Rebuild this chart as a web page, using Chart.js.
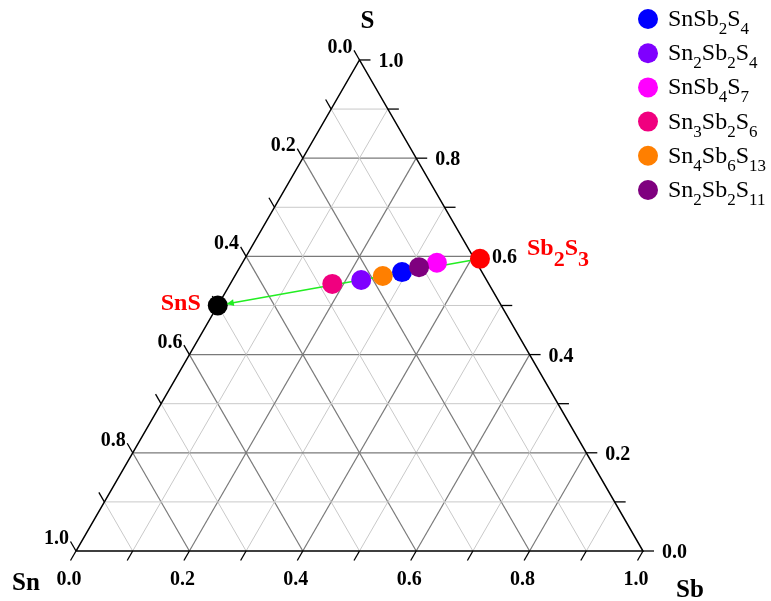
<!DOCTYPE html>
<html>
<head>
<meta charset="utf-8">
<title>Sn-Sb-S ternary diagram</title>
<script src="https://cdn.jsdelivr.net/npm/chart.js@4.4.1/dist/chart.umd.min.js"></script>
<style>
    html, body { margin: 0; padding: 0; background: #fff; }
    #wrap { width: 771px; height: 601px; position: relative; }
</style>
</head>
<body>
<div id="wrap"><canvas id="ternaryChart"></canvas></div>
<script>
// Data (fractions)
const compounds = ['SnSb2S4', 'Sn2Sb2S4', 'SnSb4S7', 'Sn3Sb2S6', 'Sn4Sb6S13', 'Sn2Sb2S11'];
const compoundColors = ['#0000ff', '#7f00ff', '#ff00ff', '#f0007f', '#ff7f00', '#7f007f'];
const snValues = [0.141, 0.221, 0.070, 0.276, 0.179, 0.106];
const sbValues = [0.291, 0.227, 0.343, 0.180, 0.261, 0.316];
const sValues  = [0.568, 0.552, 0.587, 0.544, 0.560, 0.578];

const endMembers = ['SnS', 'Sb2S3'];
const endColors = ['#000000', '#ff0000'];
const endSn = [0.500, 0.000];
const endSb = [0.000, 0.415];
const endS  = [0.500, 0.595];

const gridSteps = [0.1, 0.2, 0.3, 0.4, 0.5, 0.6, 0.7, 0.8, 0.9];
const tickValues = [0, 0.1, 0.2, 0.3, 0.4, 0.5, 0.6, 0.7, 0.8, 0.9, 1.0];
const tickLabels = ['0.0', '0.2', '0.4', '0.6', '0.8', '1.0'];
const axisTitles = ['Sn', 'Sb', 'S'];

// Layout
const UNIT = 567;               // pixels per unit side
const ORIGIN = { x: 76, y: 551 }; // Sn corner
const W = 771, H = 601;
const TICK = 11 / UNIT;
const SERIF = "'Liberation Serif', 'Times New Roman', serif";

// ternary -> cartesian (Sn corner at 0,0, Sb corner at 1,0)
function toXY(sb, s) {
    return { x: sb + s / 2, y: s * Math.sqrt(3) / 2 };
}

function segment(a, b, color, width) {
    return {
        type: 'line',
        data: [a, b],
        borderColor: color,
        borderWidth: width,
        pointRadius: 0,
        fill: false,
        order: 10
    };
}

function buildDatasets() {
    const sets = [];

    // compound points
    compounds.forEach((name, i) => {
        sets.push({
            type: 'scatter',
            label: name,
            data: [toXY(sbValues[i], sValues[i])],
            backgroundColor: compoundColors[i],
            borderWidth: 0,
            pointRadius: 10,
            order: 1 + (compounds.length - i) * 0.01
        });
    });

    // end members
    endMembers.forEach((name, i) => {
        sets.push({
            type: 'scatter',
            label: name,
            data: [toXY(endSb[i], endS[i])],
            backgroundColor: endColors[i],
            borderWidth: 0,
            pointRadius: 10,
            order: 1
        });
    });

    // tie line
    const tie = segment(toXY(endSb[0], endS[0]), toXY(endSb[1], endS[1]), '#22ee22', 1.5);
    tie.order = 2;
    sets.push(tie);

    // grid lines
    gridSteps.forEach((f, k) => {
        const major = (k % 2 === 1);
        const color = major ? '#7a7a7a' : '#c9c9c9';
        const w = major ? 1.2 : 1;
        sets.push(segment(toXY(0, f), toXY(1 - f, f), color, w));       // const S
        sets.push(segment(toXY(f, 0), toXY(f, 1 - f), color, w));       // const Sb
        sets.push(segment(toXY(1 - f, 0), toXY(0, 1 - f), color, w));   // const Sn
    });

    // ticks
    tickValues.forEach(f => {
        const b = toXY(f, 0);
        const bt = segment(b, { x: b.x - TICK * 0.5, y: b.y - TICK * 0.866 }, '#000', 1.3);
        const r = toXY(1 - f, f);
        const rt = segment(r, { x: r.x + TICK, y: r.y }, '#000', 1.3);
        const l = toXY(0, 1 - f);
        const lt = segment(l, { x: l.x - TICK * 0.5, y: l.y + TICK * 0.866 }, '#000', 1.3);
        [bt, rt, lt].forEach(t => { t.order = 5; sets.push(t); });
    });

    // triangle outline
    const frame = {
        type: 'line',
        data: [toXY(0, 0), toXY(1, 0), toXY(0, 1), toXY(0, 0)],
        borderColor: '#000',
        borderWidth: 1.5,
        pointRadius: 0,
        fill: false,
        order: 4
    };
    sets.push(frame);
    return sets;
}

// draw text where digits are subscripts
function drawFormula(ctx, text, x, y, mainFont, subFont, subDrop, align) {
    const parts = text.match(/\d+|\D+/g);
    let total = 0;
    parts.forEach(p => {
        ctx.font = /\d/.test(p) ? subFont : mainFont;
        total += ctx.measureText(p).width;
    });
    let cx = align === 'right' ? x - total : x;
    ctx.textAlign = 'left';
    ctx.textBaseline = 'alphabetic';
    parts.forEach(p => {
        const sub = /\d/.test(p);
        ctx.font = sub ? subFont : mainFont;
        ctx.fillText(p, cx, sub ? y + subDrop : y);
        cx += ctx.measureText(p).width;
    });
}

const labelPlugin = {
    id: 'ternaryLabels',
    afterDraw(chart) {
        const ctx = chart.ctx;
        const xs = chart.scales.x, ys = chart.scales.y;
        const px = p => ({ x: xs.getPixelForValue(p.x), y: ys.getPixelForValue(p.y) });
        ctx.save();
        ctx.fillStyle = '#000';

        // tick labels
        ctx.font = 'bold 20px ' + SERIF;
        tickLabels.forEach(t => {
            const f = parseFloat(t);
            const b = px(toXY(f, 0));
            ctx.textAlign = 'center';
            ctx.fillText(t, b.x - 7, b.y + 34);
            const r = px(toXY(1 - f, f));
            ctx.textAlign = 'left';
            ctx.fillText(t, r.x + 19, r.y + 7);
            const l = px(toXY(0, 1 - f));
            ctx.textAlign = 'right';
            ctx.fillText(t, l.x - 7, l.y - 7);
        });

        // axis titles
        ctx.font = 'bold 25px ' + SERIF;
        const snC = px(toXY(0, 0)), sbC = px(toXY(1, 0)), sC = px(toXY(0, 1));
        ctx.textAlign = 'left';
        ctx.fillText(axisTitles[0], snC.x - 64, snC.y + 39);
        ctx.textAlign = 'center';
        ctx.fillText(axisTitles[1], sbC.x + 47, sbC.y + 46);
        ctx.fillText(axisTitles[2], sC.x + 8, sC.y - 32);

        // arrow head on tie line near SnS
        const a = px(toXY(endSb[0], endS[0]));
        const b = px(toXY(endSb[1], endS[1]));
        const ang = Math.atan2(a.y - b.y, a.x - b.x);
        const tipX = a.x - Math.cos(ang) * 9, tipY = a.y - Math.sin(ang) * 9;
        ctx.fillStyle = '#22ee22';
        ctx.beginPath();
        ctx.moveTo(tipX, tipY);
        ctx.lineTo(tipX - Math.cos(ang - 0.45) * 8, tipY - Math.sin(ang - 0.45) * 8);
        ctx.lineTo(tipX - Math.cos(ang + 0.45) * 8, tipY - Math.sin(ang + 0.45) * 8);
        ctx.closePath();
        ctx.fill();

        // end member labels
        ctx.fillStyle = '#ff0000';
        drawFormula(ctx, endMembers[0], a.x - 17, a.y + 5,
            'bold 24px ' + SERIF, 'bold 22px ' + SERIF, 11, 'right');
        drawFormula(ctx, endMembers[1], b.x + 47, b.y - 4,
            'bold 24px ' + SERIF, 'bold 22px ' + SERIF, 11, 'left');

        // legend
        compounds.forEach((name, i) => {
            const cy = 19 + i * 34.2;
            ctx.fillStyle = compoundColors[i];
            ctx.beginPath();
            ctx.arc(648, cy, 10, 0, Math.PI * 2);
            ctx.fill();
            ctx.fillStyle = '#000';
            drawFormula(ctx, name, 668, cy + 7,
                '24px ' + SERIF, '17px ' + SERIF, 8, 'left');
        });
        ctx.restore();
    }
};

document.addEventListener('DOMContentLoaded', function() {
    const ctx = document.getElementById('ternaryChart').getContext('2d');
    new Chart(ctx, {
        type: 'scatter',
        data: { datasets: buildDatasets() },
        options: {
            responsive: true,
            maintainAspectRatio: false,
            animation: false,
            events: [],
            clip: false,
            layout: { padding: 0, autoPadding: false },
            plugins: {
                legend: { display: false },
                tooltip: { enabled: false }
            },
            scales: {
                x: {
                    type: 'linear',
                    display: false,
                    min: -ORIGIN.x / UNIT,
                    max: (W - ORIGIN.x) / UNIT
                },
                y: {
                    type: 'linear',
                    display: false,
                    min: -(H - ORIGIN.y) / UNIT,
                    max: ORIGIN.y / UNIT
                }
            }
        },
        plugins: [labelPlugin]
    });
});
</script>
</body>
</html>
